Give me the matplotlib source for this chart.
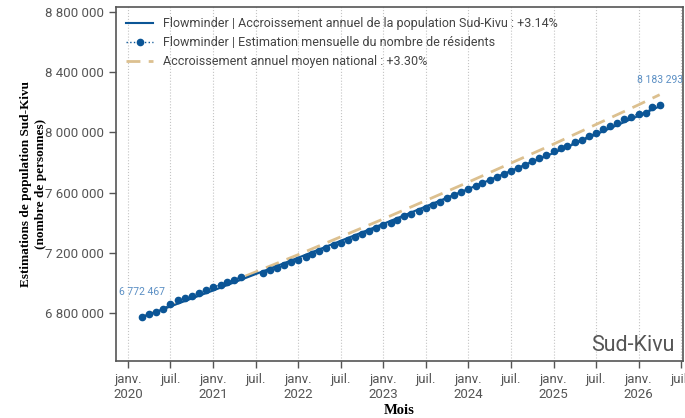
import pandas as pd
import numpy as np
import matplotlib
matplotlib.use("Agg")
import matplotlib.pyplot as plt
from matplotlib.ticker import FuncFormatter

# Estimations mensuelles Sud-Kivu (mars 2020 -> avril 2026), trou juin-juillet 2021
mois = pd.date_range("2020-03-01", "2026-04-01", freq="MS")
residents = [
    6772467, 6791333, 6804667, 6826667, 6862000, 6884667, 6902000, 6915333,
    6935333, 6951333, 6973333, 6986667, 7004667, 7020000, 7042000, np.nan,
    np.nan, 7064667, 7082000, 7098000, 7117000, 7136000, 7154000, 7173000,
    7192000, 7211000, 7230000, 7249000, 7268000, 7287000, 7306000, 7325000,
    7344000, 7363000, 7382000, 7401000, 7421000, 7442000, 7460000, 7477000,
    7495333, 7515333, 7540000, 7562000, 7582000, 7602000, 7624667, 7644667,
    7664667, 7682000, 7704667, 7724667, 7744667, 7764667, 7786667, 7811000,
    7833000, 7853333, 7875333, 7898000, 7913333, 7935333, 7953333, 7975333,
    7998000, 8020000, 8042000, 8064667, 8086667, 8104667, 8124667, 8131333,
    8168667, 8183293,
]

# droites d'accroissement annuel
dates_tendance = pd.to_datetime(["2020-03-01", "2021-01-01", "2022-01-01", "2023-01-01",
                                 "2024-01-01", "2025-01-01", "2026-01-01", "2026-04-01"])
tendance_sk = [6772467, 6949220, 7167420, 7392480, 7624600, 7864020, 8110940, 8173880]
tendance_nat = [6772467, 6958200, 7187820, 7425020, 7670040, 7923150, 8184620, 8251330]

bleu = "#0b5596"
beige = "#dcc08f"

fig = plt.figure(figsize=(6.85, 4.18), dpi=100)
ax = fig.add_axes([0.1693, 0.1364, 0.8277, 0.8469])

ax.plot(dates_tendance, tendance_nat, color=beige, lw=2, ls=(0, (5, 3)), zorder=2,
        label="Accroissement annuel moyen national : +3.30%")
ax.plot(dates_tendance, tendance_sk, color=bleu, lw=1.5, zorder=3,
        label="Flowminder | Accroissement annuel de la population Sud-Kivu : +3.14%")
ax.plot(mois, residents, color=bleu, ls=":", lw=1, marker="o", ms=4.5, zorder=4,
        label="Flowminder | Estimation mensuelle du nombre de résidents")

# légende dans l'ordre de la référence
h, l = ax.get_legend_handles_labels()
ordre = [1, 2, 0]
ax.legend([h[i] for i in ordre], [l[i] for i in ordre], loc="upper left", frameon=False,
          prop={"family": "Roboto", "size": 9}, labelcolor="#444444",
          handlelength=2.2, borderaxespad=0.4, labelspacing=0.5)

ax.annotate("6 772 467", (mois[0], residents[0]), xytext=(0, 16), textcoords="offset points",
            ha="center", fontsize=7.5, color="#5b8fc4", family="Roboto")
ax.annotate("8 183 293", (mois[-1], residents[-1]), xytext=(0, 16), textcoords="offset points",
            ha="center", fontsize=7.5, color="#5b8fc4", family="Roboto")

ax.text(0.985, 0.015, "Sud-Kivu", transform=ax.transAxes, ha="right", va="bottom",
        fontsize=15.5, color="#555555", family="Roboto")

ax.set_ylim(6480000, 8835000)
ax.set_yticks([6800000, 7200000, 7600000, 8000000, 8400000, 8800000])
ax.yaxis.set_major_formatter(FuncFormatter(lambda v, p: f"{int(v):,}".replace(",", " ")))

ax.set_xlim(pd.Timestamp("2019-11-10"), pd.Timestamp("2026-07-10"))
ticks_x = pd.date_range("2020-01-01", "2026-07-01", freq="6MS")
ax.set_xticks(ticks_x)
ax.set_xticklabels([f"janv.\n{d.year}" if d.month == 1 else "juil." for d in ticks_x])
ax.grid(axis="x", color="#c4c4c4", ls=":", lw=0.8)

for lab in ax.get_xticklabels() + ax.get_yticklabels():
    lab.set_family("Roboto")
    lab.set_fontsize(9.5)
    lab.set_color("#555555")
ax.tick_params(length=5, width=1, color="#555555")
for s in ax.spines.values():
    s.set_color("#555555")
    s.set_linewidth(1.2)

ax.set_xlabel("Mois", family="Liberation Serif", fontweight="bold", fontsize=10.5, labelpad=2)
ax.set_ylabel("Estimations de population Sud-Kivu\n(nombre de personnes)",
              family="Liberation Serif", fontweight="bold", fontsize=9.5, labelpad=-1,
              linespacing=1.3)

fig.savefig("out.png", dpi=100)
